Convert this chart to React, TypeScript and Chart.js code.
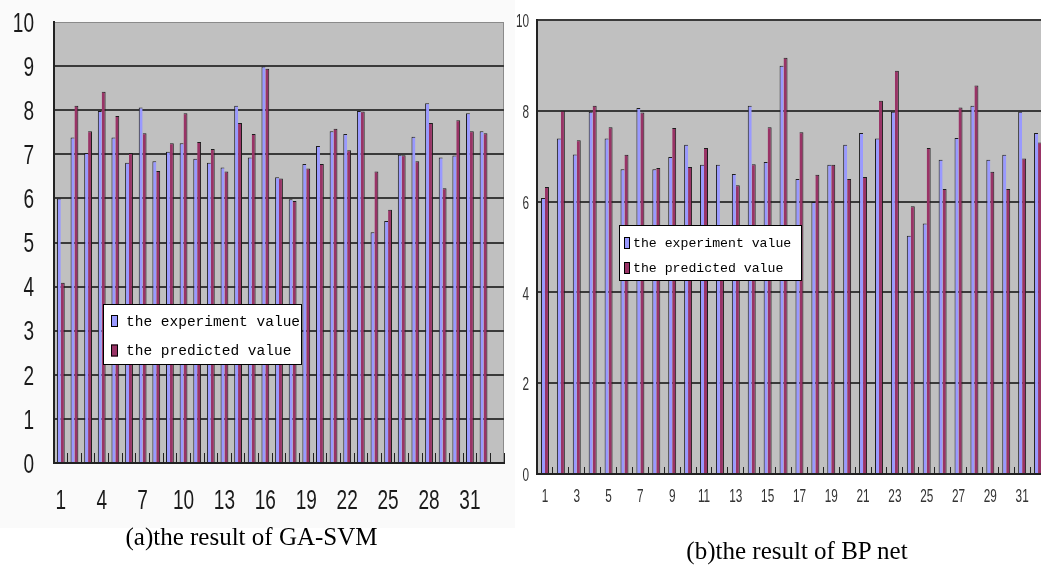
import React, { useEffect, useRef } from 'react';
import { Chart, registerables } from 'chart.js';

Chart.register(...registerables);

// ---------- data ----------
const svmCategories = ['1','2','3','4','5','6','7','8','9','10','11','12','13','14','15','16','17','18','19','20','21','22','23','24','25','26','27','28','29','30','31','32','33'];
const svmExperiment = [6.0, 7.38, 7.03, 7.98, 7.38, 6.81, 8.06, 6.84, 7.06, 7.25, 6.9, 6.81, 6.7, 8.1, 6.93, 8.99, 6.48, 5.98, 6.78, 7.19, 7.52, 7.46, 7.98, 5.23, 5.49, 6.99, 7.4, 8.16, 6.93, 6.97, 7.93, 7.52, null];
const svmPredicted = [4.09, 8.1, 7.52, 8.42, 7.87, 7.03, 7.48, 6.62, 7.25, 7.93, 7.28, 7.12, 6.61, 7.71, 7.46, 8.94, 6.45, 5.94, 6.68, 6.78, 7.58, 7.09, 7.97, 6.61, 5.74, 6.98, 6.84, 7.71, 6.23, 7.77, 7.52, 7.48, null];
const svmTicks = [0, 1, 2, 3, 4, 5, 6, 7, 8, 9, 10];

const bpCategories = ['1','2','3','4','5','6','7','8','9','10','11','12','13','14','15','16','17','18','19','20','21','22','23','24','25','26','27','28','29','30','31','32'];
const bpExperiment = [6.08, 7.39, 7.04, 7.98, 7.39, 6.71, 8.06, 6.71, 6.98, 7.25, 6.81, 6.81, 6.61, 8.11, 6.87, 8.99, 6.5, 5.99, 6.81, 7.25, 7.51, 7.39, 7.98, 5.25, 5.52, 6.92, 7.4, 8.11, 6.92, 7.03, 7.98, 7.51];
const bpPredicted = [6.32, 8.0, 7.35, 8.11, 7.64, 7.03, 7.96, 6.74, 7.62, 6.76, 7.18, 5.0, 6.36, 6.82, 7.64, 9.17, 7.53, 6.59, 6.81, 6.5, 6.54, 8.22, 8.88, 5.9, 7.18, 6.28, 8.07, 8.56, 6.66, 6.28, 6.95, 7.3];
const bpTicks = [0, 2, 4, 6, 8, 10];

const seriesNames = ['the experiment value', 'the predicted value'];
const captions = ['(a)the result of GA-SVM', '(b)the result of BP net'];

// ---------- styles ----------
const BLUE = '#9999ff';
const RED = '#993366';
const EDGE = '#1c1c1c';
const PLOT = '#c0c0c0';
const SANS = "'Liberation Sans', Arial, sans-serif";
const MONO = "'Liberation Mono', 'DejaVu Sans Mono', monospace";

const plotBg = {
  id: 'plotBg',
  beforeDraw(chart: any, _args: any, opts: any) {
    const { ctx, chartArea: a } = chart;
    ctx.save();
    if (opts.canvasBg) {
      ctx.fillStyle = opts.canvasBg;
      ctx.fillRect(0, 0, chart.width, chart.height);
    }
    ctx.fillStyle = opts.color;
    ctx.fillRect(a.left, a.top, a.right - a.left, a.bottom - a.top);
    if (opts.frame) {
      ctx.strokeStyle = opts.frame;
      ctx.lineWidth = 1;
      ctx.strokeRect(a.left + 0.5, a.top + 0.5, a.right - a.left - 1, a.bottom - a.top - 1);
    }
    ctx.restore();
  },
};

// tick labels, placed with the chart's own scales, drawn horizontally condensed
const narrowTicks = {
  id: 'narrowTicks',
  afterDraw(chart: any, _args: any, o: any) {
    if (!o || !o.size) return;
    const { ctx } = chart;
    const xs = chart.scales.x;
    const ys = chart.scales.y;
    ctx.save();
    ctx.fillStyle = o.color;
    ctx.font = `${o.size}px ${o.family}`;
    ctx.textBaseline = 'middle';
    const labels: string[] = chart.data.labels;
    ctx.textAlign = 'center';
    labels.forEach((lab: string, i: number) => {
      if (i % o.every !== 0) return;
      const px = xs.getPixelForValue(i);
      ctx.save();
      ctx.translate(px, xs.top + o.xOffset);
      ctx.scale(o.sx, 1);
      ctx.fillText(lab, 0, 0);
      ctx.restore();
    });
    ctx.textAlign = 'right';
    (o.yTicks as number[]).forEach((v: number) => {
      const py = ys.getPixelForValue(v);
      ctx.save();
      ctx.translate(ys.right - o.yPad, py + o.yShift);
      ctx.scale(o.sx, 1);
      ctx.fillText(String(v), 0, 0);
      ctx.restore();
    });
    ctx.restore();
  },
};

const boxLegend = {
  id: 'boxLegend',
  afterDatasetsDraw(chart: any, _args: any, opts: any) {
    if (!opts || !opts.w) return;
    const { ctx } = chart;
    const { x, y, w, h } = opts;
    ctx.save();
    ctx.fillStyle = '#ffffff';
    ctx.fillRect(x, y, w, h);
    ctx.strokeStyle = '#000';
    ctx.lineWidth = 1;
    ctx.strokeRect(x + 0.5, y + 0.5, w - 1, h - 1);
    ctx.font = opts.font;
    ctx.textBaseline = 'middle';
    chart.data.datasets.forEach((ds: any, i: number) => {
      const cy = y + opts.firstRow + i * opts.rowGap;
      ctx.fillStyle = ds.backgroundColor;
      ctx.fillRect(x + opts.swX, cy - opts.swH / 2, opts.swW, opts.swH);
      ctx.strokeStyle = '#000';
      ctx.strokeRect(x + opts.swX + 0.5, cy - opts.swH / 2 + 0.5, opts.swW - 1, opts.swH - 1);
      ctx.fillStyle = '#000';
      ctx.fillText(ds.label, x + opts.textX, cy + 1);
    });
    ctx.restore();
  },
};

function makeDatasets(exp: (number | null)[], pred: (number | null)[], catPct: number) {
  return [
    {
      label: seriesNames[0],
      data: exp,
      backgroundColor: BLUE,
      borderColor: EDGE,
      borderWidth: { top: 1, left: 1, right: 0, bottom: 0 },
      categoryPercentage: catPct,
      barPercentage: 1,
    },
    {
      label: seriesNames[1],
      data: pred,
      backgroundColor: RED,
      borderColor: EDGE,
      borderWidth: { top: 1, left: 0, right: 1, bottom: 0 },
      categoryPercentage: catPct,
      barPercentage: 1,
    },
  ];
}

function BarChart(props: any) {
  const ref = useRef<HTMLCanvasElement | null>(null);
  useEffect(() => {
    if (!ref.current) return;
    const yTicks: number[] = props.yTicks;
    const yMax = yTicks[yTicks.length - 1];
    const chart = new Chart(ref.current, {
      type: 'bar',
      data: { labels: props.labels, datasets: makeDatasets(props.exp, props.pred, props.catPct) as any },
      plugins: [plotBg, boxLegend, narrowTicks],
      options: {
        animation: false,
        responsive: true,
        maintainAspectRatio: false,
        layout: { padding: { top: props.padTop, right: props.padRight, left: 0, bottom: 0 } },
        plugins: {
          legend: { display: false },
          tooltip: { enabled: false },
          title: { display: false },
          plotBg: { color: PLOT, frame: props.frame, canvasBg: props.canvasBg },
          boxLegend: props.legend,
          narrowTicks: {
            size: props.tickFont,
            family: SANS,
            color: props.tickColor,
            sx: props.sx,
            every: props.every,
            xOffset: props.xOffset,
            yPad: props.yPad,
            yShift: props.yShift,
            yTicks,
          },
        } as any,
        scales: {
          x: {
            offset: true,
            grid: {
              display: true,
              drawOnChartArea: false,
              drawTicks: true,
              tickLength: -props.innerTick,
              color: '#222',
              lineWidth: 1,
              offset: true,
            },
            border: { display: true, color: '#222', width: 2 },
            ticks: { display: false, autoSkip: false, maxRotation: 0 },
            afterFit: (s: any) => {
              s.height = props.xHeight;
            },
          },
          y: {
            min: 0,
            max: yMax,
            afterBuildTicks: (s: any) => {
              s.ticks = yTicks.map((v) => ({ value: v }));
            },
            grid: {
              drawTicks: false,
              color: (c: any) => (c.tick && c.tick.value === yMax ? props.topLine : '#3a3a3a'),
              lineWidth: (c: any) => (c.tick && c.tick.value === yMax ? props.topLineWidth : 2),
            },
            border: { display: true, color: '#222', width: 2 },
            ticks: { display: false },
            afterFit: (s: any) => {
              s.width = props.yWidth;
            },
          },
        },
      } as any,
    });
    return () => chart.destroy();
  }, []);
  return <canvas ref={ref} />;
}

export default function App() {
  const captionStyle: any = {
    position: 'absolute',
    textAlign: 'center',
    fontFamily: "'Liberation Serif', 'Times New Roman', serif",
    fontSize: 25,
    color: '#000',
    lineHeight: '28px',
  };
  return (
    <div
      style={{
        position: 'fixed',
        left: 0,
        top: 0,
        width: 1041,
        height: 571,
        overflow: 'hidden',
        background: '#ffffff',
      }}
    >
      <div style={{ position: 'absolute', left: 0, top: 0, width: 515, height: 528 }}>
        <BarChart
          labels={svmCategories}
          exp={svmExperiment}
          pred={svmPredicted}
          yTicks={svmTicks}
          every={3}
          catPct={0.571}
          tickFont={28}
          sx={0.68}
          tickColor="#1a1a1a"
          xOffset={38}
          yPad={20}
          yShift={2}
          xHeight={65}
          yWidth={54}
          padTop={22}
          padRight={11}
          innerTick={10}
          topLine="#8a8a8a"
          topLineWidth={1}
          frame="#8a8a8a"
          canvasBg="#fafafa"
          legend={{ x: 103, y: 304, w: 199, h: 61, firstRow: 17, rowGap: 29.5, swX: 8, swW: 7, swH: 12, textX: 23, font: `14.5px ${MONO}` }}
        />
      </div>
      <div style={{ position: 'absolute', left: 508, top: 0, width: 538, height: 528 }}>
        <BarChart
          labels={bpCategories}
          exp={bpExperiment}
          pred={bpPredicted}
          yTicks={bpTicks}
          every={2}
          catPct={0.5}
          tickFont={19}
          sx={0.62}
          tickColor="#333"
          xOffset={23}
          yPad={8}
          yShift={2}
          xHeight={54}
          yWidth={29}
          padTop={20}
          padRight={0}
          innerTick={7}
          topLine="#3a3a3a"
          topLineWidth={2}
          frame={null}
          canvasBg={null}
          legend={{ x: 111, y: 225, w: 183, h: 56, firstRow: 18, rowGap: 25, swX: 5, swW: 6, swH: 12, textX: 14, font: `13.2px ${MONO}` }}
        />
      </div>
      <div style={{ ...captionStyle, left: 0, top: 523, width: 503 }}>{captions[0]}</div>
      <div style={{ ...captionStyle, left: 560, top: 537, width: 474 }}>{captions[1]}</div>
    </div>
  );
}
